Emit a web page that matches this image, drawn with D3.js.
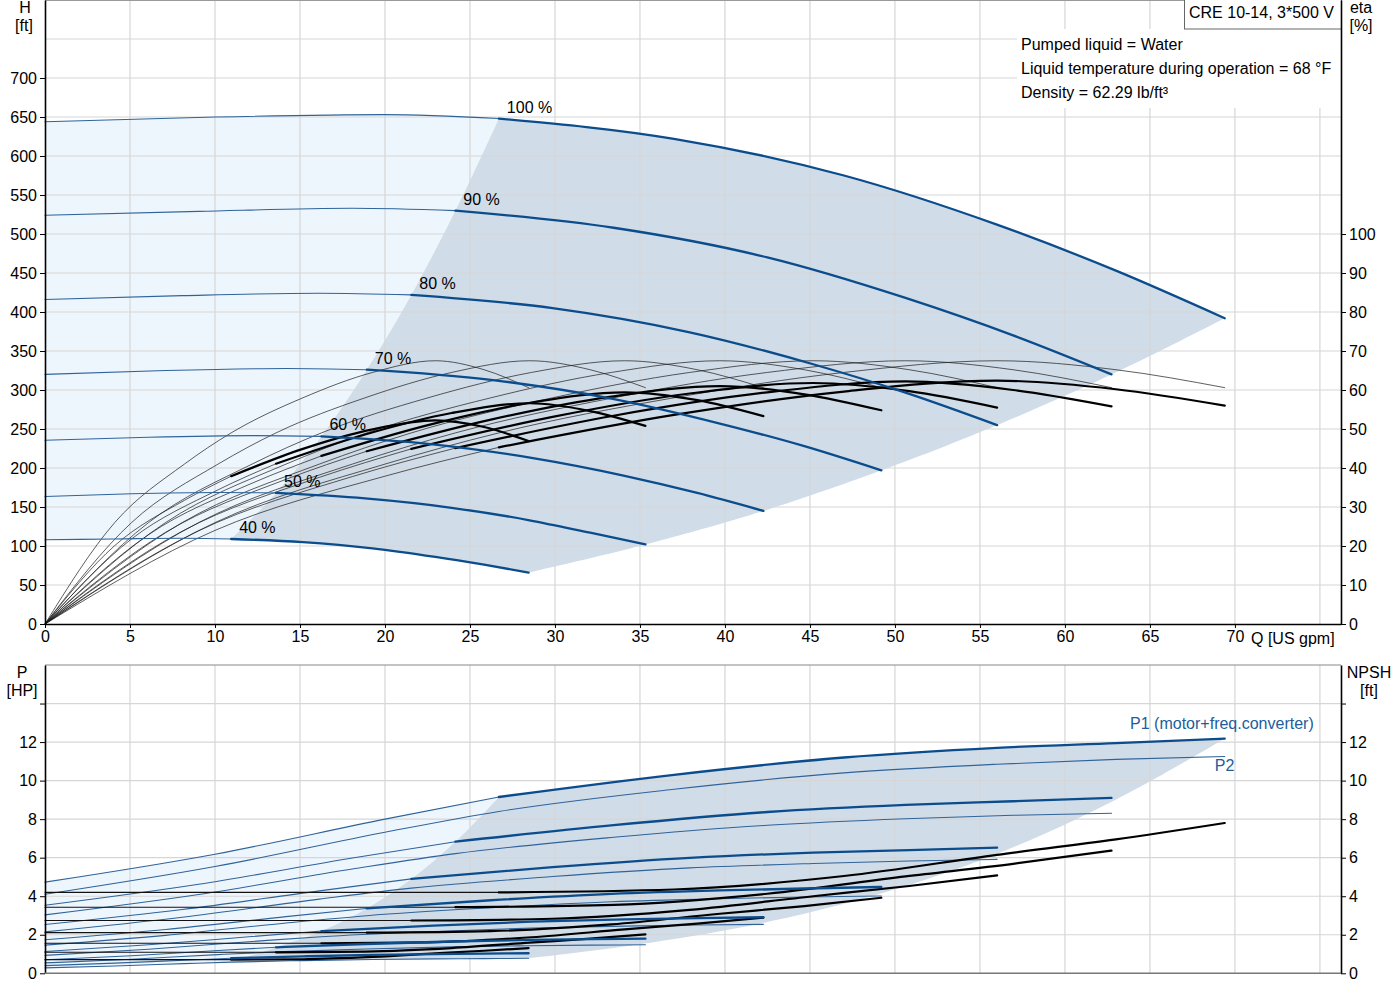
<!DOCTYPE html>
<html lang="en">
<head>
<meta charset="UTF-8">
<title>CRE 10-14, 3*500 V</title>
<script src="https://cdn.jsdelivr.net/npm/d3@7"></script>
<style>
  body { margin: 0; background: #fff; }
  svg { display: block; }
  text { font-family: "Liberation Sans", Arial, sans-serif; font-size: 16px; }
</style>
</head>
<body>
<svg id="chart" width="1400" height="1000"></svg>
<script>
// values, one row per speed (100 % ... 40 %)
const speedLabels = ["100 %", "90 %", "80 %", "70 %", "60 %", "50 %", "40 %"];

// flow [US gpm]
const flowQ = [
  [0, 10, 20, 26.7, 37, 47, 56, 63, 69.4],
  [0, 9.04, 18.08, 24.14, 33.45, 42.49, 50.62, 56.95, 62.74],
  [0, 8.07, 16.14, 21.55, 29.86, 37.93, 45.19, 50.84, 56.01],
  [0, 7.09, 14.18, 18.93, 26.23, 33.32, 39.7, 44.67, 49.2],
  [0, 6.09, 12.18, 16.26, 22.53, 28.62, 34.1, 38.37, 42.26],
  [0, 5.09, 10.18, 13.59, 18.83, 23.92, 28.5, 32.07, 35.32],
  [0, 4.1, 8.2, 10.95, 15.17, 19.27, 22.96, 25.83, 28.45]
];
// head [ft]
const headH = [
  [644, 650, 653, 648, 622, 575, 512, 453, 392],
  [524, 529, 533, 530, 508, 470, 418, 370, 320],
  [416, 421, 424, 422, 405, 374, 333, 295, 255],
  [320, 325, 327.5, 326, 313, 289, 257, 228, 197],
  [235.5, 239.5, 241.5, 240.5, 231, 213, 190, 168, 145],
  [163.5, 167, 168.5, 168, 161, 149, 133, 117, 102],
  [108, 109, 110, 109, 105, 97, 86, 76, 66]
];
// pump efficiency [%], same shape at every speed
const etaPump = [0, 26, 41, 49, 58, 64.5, 67.5, 65.2, 60.6];
// total efficiency [%]
const etaTotal = [
  [0, 24.0, 37.9, 45.3, 53.6, 59.6, 62.4, 60.2, 56.0],
  [0, 23.9, 37.8, 45.1, 53.4, 59.4, 62.2, 60.0, 55.8],
  [0, 23.8, 37.6, 44.9, 53.1, 59.1, 61.8, 59.7, 55.5],
  [0, 23.5, 37.1, 44.3, 52.4, 58.3, 61.0, 58.9, 54.8],
  [0, 22.9, 36.1, 43.1, 51.0, 56.8, 59.4, 57.4, 53.3],
  [0, 21.8, 34.4, 41.1, 48.6, 54.1, 56.6, 54.6, 50.8],
  [0, 20.1, 31.7, 37.9, 44.9, 49.9, 52.2, 50.5, 46.9]
];
// P1 motor + freq. converter [HP]
const powerP1 = [
  [4.73, 6.18, 8.0, 9.15, 10.3, 11.2, 11.7, 11.95, 12.18],
  [3.53, 4.62, 5.98, 6.83, 7.69, 8.37, 8.74, 8.93, 9.10],
  [2.53, 3.31, 4.28, 4.90, 5.51, 5.99, 6.26, 6.39, 6.52],
  [1.74, 2.27, 2.94, 3.37, 3.79, 4.12, 4.30, 4.40, 4.48],
  [1.13, 1.48, 1.91, 2.19, 2.46, 2.68, 2.80, 2.86, 2.91],
  [0.70, 0.91, 1.18, 1.35, 1.52, 1.65, 1.73, 1.77, 1.80],
  [0.40, 0.53, 0.68, 0.78, 0.88, 0.96, 1.00, 1.02, 1.04]
];
// P2 [HP]
const powerP2 = [
  [4.1, 5.54, 7.32, 8.4, 9.55, 10.4, 10.85, 11.1, 11.25],
  [3.03, 4.09, 5.41, 6.21, 7.06, 7.68, 8.02, 8.2, 8.31],
  [2.15, 2.91, 3.85, 4.42, 5.02, 5.47, 5.70, 5.83, 5.91],
  [1.46, 1.97, 2.61, 2.99, 3.40, 3.71, 3.87, 3.96, 4.01],
  [0.93, 1.25, 1.65, 1.90, 2.16, 2.35, 2.45, 2.51, 2.54],
  [0.54, 0.73, 0.97, 1.11, 1.26, 1.37, 1.43, 1.46, 1.48],
  [0.28, 0.38, 0.50, 0.58, 0.66, 0.72, 0.75, 0.76, 0.78]
];
// NPSH [ft]
const npsh = [
  [4.2, 4.2, 4.2, 4.2, 4.35, 5.05, 6.15, 6.95, 7.8],
  [3.43, 3.43, 3.43, 3.43, 3.55, 4.13, 5.03, 5.68, 6.37],
  [2.74, 2.74, 2.74, 2.74, 2.83, 3.29, 4.0, 4.53, 5.08],
  [2.11, 2.11, 2.11, 2.11, 2.19, 2.54, 3.09, 3.49, 3.92],
  [1.56, 1.56, 1.56, 1.56, 1.61, 1.87, 2.28, 2.58, 2.89],
  [1.09, 1.09, 1.09, 1.09, 1.13, 1.31, 1.59, 1.80, 2.02],
  [0.71, 0.71, 0.71, 0.71, 0.73, 0.85, 1.03, 1.17, 1.31]
];
// edges of the shaded power range, at start / end flow of each speed
const powerEdgeLeft = [9.15, 6.83, 4.90, 3.37, 2.19, 1.35, 0.58];
const powerEdgeRight = [12.18, 8.9, 6.2, 4.15, 2.62, 1.55, 0.78];

const startIdx = 3; // curves turn thick from this point on
const lastIdx = 8;

const flowTicks = [0, 5, 10, 15, 20, 25, 30, 35, 40, 45, 50, 55, 60, 65, 70];
const headTicks = [0, 50, 100, 150, 200, 250, 300, 350, 400, 450, 500, 550, 600, 650, 700];
const etaTicks = [0, 10, 20, 30, 40, 50, 60, 70, 80, 90, 100];
const powerTicks = [0, 2, 4, 6, 8, 10, 12, 14];

const svg = d3.select("#chart");

const x = d3.scaleLinear().domain([0, 76.24]).range([45, 1341]);
const yH = d3.scaleLinear().domain([0, 800]).range([624, 0]);
const yEta = d3.scaleLinear().domain([0, 160]).range([624, 0]);
const yP = d3.scaleLinear().domain([0, 16]).range([973.3, 665]);

const blue = "#0b4c8c";
const thinBlue = "#2f639a";
const lightFill = "#eef6fd";
const darkFill = "#d0dce8";
const gridCol = "#d6d6d6";

const pairs = (qs, vs) => qs.map((q, i) => [q, vs[i]]);
const curve = ys => d3.line().x(d => x(d[0])).y(d => ys(d[1])).curve(d3.curveMonotoneX);
const order = [6, 5, 4, 3, 2, 1, 0]; // 40 % -> 100 %

// points along a rendered path, used to outline the shaded ranges
function sample(d, n) {
  const p = svg.append("path").attr("d", d).attr("fill", "none");
  const node = p.node();
  const len = node.getTotalLength();
  const out = d3.range(n + 1).map(i => {
    const pt = node.getPointAtLength(len * i / n);
    return [pt.x, pt.y];
  });
  p.remove();
  return out;
}

function drawRange(ys, top, bottom, left, right) {
  const line = curve(ys);
  const s = a => sample(line(a), 120);
  const rev = a => a.slice().reverse();
  const light = [...s(top.slice(0, startIdx + 1)), ...rev(s(left)), ...rev(s(bottom.slice(0, startIdx + 1)))];
  const dark = [...s(top.slice(startIdx)), ...rev(s(right)), ...rev(s(bottom.slice(startIdx))), ...s(left)];
  svg.append("path").attr("d", d3.line()(light) + "Z").attr("fill", lightFill);
  svg.append("path").attr("d", d3.line()(dark) + "Z").attr("fill", darkFill);
}

function grid(y0, y1, ys, values) {
  const g = svg.append("g").attr("stroke", gridCol).attr("stroke-width", 1.2);
  g.selectAll(".v").data(d3.range(5, 76, 5)).join("line")
    .attr("x1", d => x(d)).attr("x2", d => x(d)).attr("y1", y0).attr("y2", y1);
  g.selectAll(".h").data(values).join("line")
    .attr("x1", x(0)).attr("x2", x.range()[1]).attr("y1", d => ys(d)).attr("y2", d => ys(d));
}

function drawLines(ys, rows, qRows, stroke, width, from, to) {
  const line = curve(ys);
  rows.forEach((r, i) => {
    svg.append("path")
      .attr("d", line(pairs(qRows[i], r).slice(from, to)))
      .attr("fill", "none").attr("stroke", stroke).attr("stroke-width", width)
      .attr("stroke-linecap", "round");
  });
}

function styleAxis(g) {
  g.attr("font-size", 16).attr("font-family", '"Liberation Sans", Arial, sans-serif');
  g.selectAll("text").attr("fill", "#000");
  g.selectAll("line, path").attr("stroke", "#000");
  g.select(".domain").attr("stroke-width", 1.6);
}

// ---------- top chart: head and efficiency ----------
drawRange(yH, pairs(flowQ[0], headH[0]), pairs(flowQ[6], headH[6]),
  order.map(i => [flowQ[i][startIdx], headH[i][startIdx]]),
  order.map(i => [flowQ[i][lastIdx], headH[i][lastIdx]]));

grid(0, 624, yH, [50, 100, 150, 200, 250, 300, 350, 400, 450, 500, 550, 600, 650, 700, 750]);

svg.append("line").attr("x1", 45).attr("x2", 1341).attr("y1", 0.5).attr("y2", 0.5)
  .attr("stroke", "#999");

// info block
svg.append("rect").attr("x", 1017).attr("y", 29).attr("width", 324).attr("height", 79).attr("fill", "#fff");
svg.append("rect").attr("x", 1184.5).attr("y", -1).attr("width", 157).attr("height", 30)
  .attr("fill", "#fff").attr("stroke", "#666");
svg.append("text").attr("x", 1189).attr("y", 18).text("CRE 10-14, 3*500 V");
["Pumped liquid = Water", "Liquid temperature during operation = 68 °F", "Density = 62.29 lb/ft³"]
  .forEach((t, i) => svg.append("text").attr("x", 1021).attr("y", 49.5 + i * 24).text(t));

// thin parts
drawLines(yEta, flowQ.map(() => etaPump), flowQ, "#1a1a1a", 0.7, 0, lastIdx + 1);
drawLines(yEta, etaTotal, flowQ, "#1a1a1a", 0.7, 0, startIdx + 1);
drawLines(yH, headH, flowQ, thinBlue, 1.1, 0, startIdx + 1);
// thick parts inside the operating range
drawLines(yEta, etaTotal, flowQ, "#000", 2.2, startIdx, lastIdx + 1);
drawLines(yH, headH, flowQ, blue, 2.3, startIdx, lastIdx + 1);

svg.selectAll(".speed").data(speedLabels).join("text")
  .attr("x", (d, i) => x(flowQ[i][startIdx]) + 8)
  .attr("y", (d, i) => yH(headH[i][startIdx]) - 6)
  .text(d => d);

svg.append("g").attr("transform", "translate(45,0)")
  .call(d3.axisLeft(yH).tickValues(headTicks).tickSize(5).tickSizeOuter(0))
  .call(styleAxis);
svg.append("g").attr("transform", "translate(1341,0)")
  .call(d3.axisRight(yEta).tickValues(etaTicks).tickSize(5).tickSizeOuter(0))
  .call(styleAxis);
svg.append("g").attr("transform", "translate(0,624)")
  .call(d3.axisBottom(x).tickValues(flowTicks).tickSize(4).tickSizeOuter(0))
  .call(styleAxis);

svg.append("text").attr("x", 1251).attr("y", 644).text("Q [US gpm]");
svg.append("text").attr("x", 25).attr("y", 13).attr("text-anchor", "middle").text("H");
svg.append("text").attr("x", 24).attr("y", 31).attr("text-anchor", "middle").text("[ft]");
svg.append("text").attr("x", 1361).attr("y", 13).attr("text-anchor", "middle").text("eta");
svg.append("text").attr("x", 1361).attr("y", 31).attr("text-anchor", "middle").text("[%]");

// ---------- bottom chart: power and NPSH ----------
drawRange(yP, pairs(flowQ[0], powerP1[0]), pairs(flowQ[6], powerP2[6]),
  order.map(i => [flowQ[i][startIdx], powerEdgeLeft[i]]),
  order.map(i => [flowQ[i][lastIdx], powerEdgeRight[i]]));

grid(665, 973.3, yP, [2, 4, 6, 8, 10, 12, 14]);

svg.append("line").attr("x1", 45).attr("x2", 1341).attr("y1", 665).attr("y2", 665).attr("stroke", "#888");

drawLines(yP, powerP2, flowQ, thinBlue, 1.1, 0, lastIdx + 1);
drawLines(yP, powerP1, flowQ, thinBlue, 1.1, 0, startIdx + 1);
drawLines(yP, npsh, flowQ, "#111", 1.1, 0, startIdx + 1);
drawLines(yP, npsh, flowQ, "#000", 2.2, startIdx, lastIdx + 1);
drawLines(yP, powerP1, flowQ, blue, 2.3, startIdx, lastIdx + 1);

svg.append("text").attr("x", x(flowQ[0][lastIdx]) + 89).attr("y", yP(powerP1[0][lastIdx]) - 10)
  .attr("text-anchor", "end").attr("fill", "#215d9b").text("P1 (motor+freq.converter)");
svg.append("text").attr("x", x(flowQ[0][lastIdx]) - 10).attr("y", yP(powerP2[0][lastIdx]) + 14)
  .attr("fill", "#215d9b").text("P2");

svg.append("g").attr("transform", "translate(45,0)")
  .call(d3.axisLeft(yP).tickValues(powerTicks).tickSize(5).tickSizeOuter(0)
    .tickFormat(d => d === 14 ? "" : d))
  .call(styleAxis);
svg.append("g").attr("transform", "translate(1341,0)")
  .call(d3.axisRight(yP).tickValues(powerTicks).tickSize(5).tickSizeOuter(0)
    .tickFormat(d => d === 14 ? "" : d))
  .call(styleAxis);
svg.append("line").attr("x1", 45).attr("x2", 1341).attr("y1", 973.3).attr("y2", 973.3)
  .attr("stroke", "#777").attr("stroke-width", 1.6);

svg.append("text").attr("x", 22).attr("y", 678).attr("text-anchor", "middle").text("P");
svg.append("text").attr("x", 22).attr("y", 696).attr("text-anchor", "middle").text("[HP]");
svg.append("text").attr("x", 1369).attr("y", 678).attr("text-anchor", "middle").text("NPSH");
svg.append("text").attr("x", 1369).attr("y", 696).attr("text-anchor", "middle").text("[ft]");
</script>
</body>
</html>
